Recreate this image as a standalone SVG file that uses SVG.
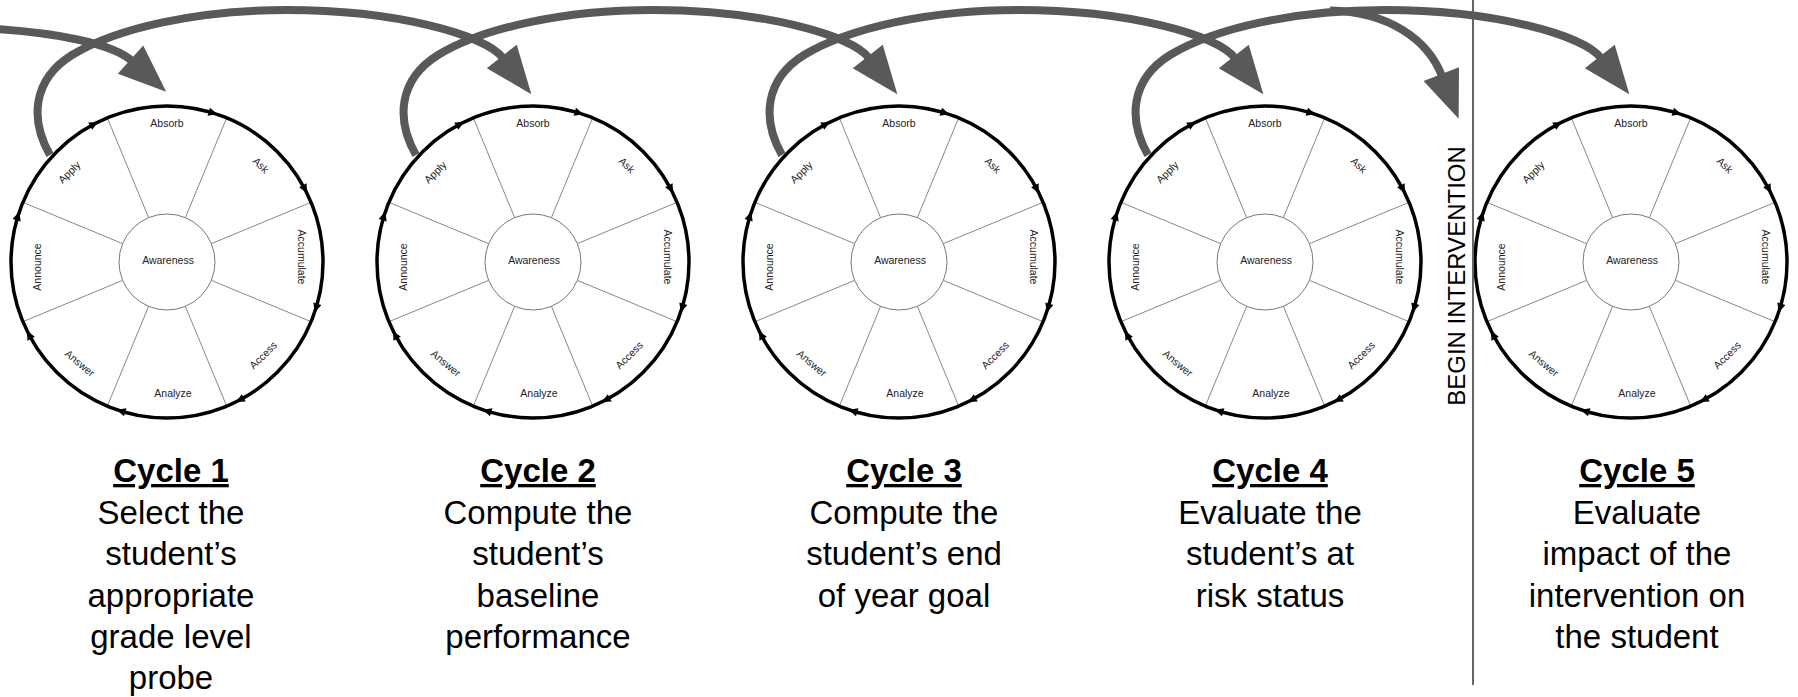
<svg xmlns="http://www.w3.org/2000/svg" xmlns:xlink="http://www.w3.org/1999/xlink" width="1798" height="697" viewBox="0 0 1798 697">
<style>
.rim{fill:none;stroke:#000;stroke-width:3.5}
.hub{fill:#fff;stroke:#777;stroke-width:1}
.spoke{stroke:#888;stroke-width:1}
.wl{font-family:"Liberation Sans",Arial,sans-serif;font-size:10.5px;fill:#222;text-anchor:middle;dominant-baseline:central}
.cap{font-family:"Liberation Sans",Arial,sans-serif;font-size:33px;fill:#000;text-anchor:middle}
.capt{font-weight:bold;text-decoration:underline}
.conn{fill:none;stroke:#595959;stroke-width:8;marker-end:url(#bigHead)}
.div{stroke:#666;stroke-width:2}
.bi{font-family:"Liberation Sans",Arial,sans-serif;font-size:24px;fill:#000;text-anchor:middle}
</style>
<defs>
<marker id="bigHead" markerUnits="userSpaceOnUse" markerWidth="60" markerHeight="50" refX="2" refY="20" orient="auto" overflow="visible">
<path d="M0,1 L48,20 L0,39 Z" fill="#595959"/>
</marker>
<path id="rimHead" d="M5,0 L-4,-4.2 L-4,4.2 Z" fill="#000"/>
<g id="wheelShape">
<line class="spoke" x1="18.37" y1="-44.35" x2="59.70" y2="-144.13"/>
<line class="spoke" x1="44.35" y1="-18.37" x2="144.13" y2="-59.70"/>
<line class="spoke" x1="44.35" y1="18.37" x2="144.13" y2="59.70"/>
<line class="spoke" x1="18.37" y1="44.35" x2="59.70" y2="144.13"/>
<line class="spoke" x1="-18.37" y1="44.35" x2="-59.70" y2="144.13"/>
<line class="spoke" x1="-44.35" y1="18.37" x2="-144.13" y2="59.70"/>
<line class="spoke" x1="-44.35" y1="-18.37" x2="-144.13" y2="-59.70"/>
<line class="spoke" x1="-18.37" y1="-44.35" x2="-59.70" y2="-144.13"/>
<circle class="hub" cx="0" cy="0" r="48"/>
<circle class="rim" cx="0" cy="0" r="156"/>
<use xlink:href="#rimHead" href="#rimHead" transform="rotate(-73) translate(156,0) rotate(90)"/>
<use xlink:href="#rimHead" href="#rimHead" transform="rotate(-28) translate(156,0) rotate(90)"/>
<use xlink:href="#rimHead" href="#rimHead" transform="rotate(17) translate(156,0) rotate(90)"/>
<use xlink:href="#rimHead" href="#rimHead" transform="rotate(62) translate(156,0) rotate(90)"/>
<use xlink:href="#rimHead" href="#rimHead" transform="rotate(107) translate(156,0) rotate(90)"/>
<use xlink:href="#rimHead" href="#rimHead" transform="rotate(152) translate(156,0) rotate(90)"/>
<use xlink:href="#rimHead" href="#rimHead" transform="rotate(197) translate(156,0) rotate(90)"/>
<use xlink:href="#rimHead" href="#rimHead" transform="rotate(242) translate(156,0) rotate(90)"/>
</g>
</defs>
<rect width="1798" height="697" fill="#fff"/>

<g id="cycle1">
<g transform="translate(167,262)">
<use xlink:href="#wheelShape" href="#wheelShape"/>
<text class="wl" transform="translate(0,-139)">Absorb</text>
<text class="wl" transform="translate(94,-97) rotate(45)">Ask</text>
<text class="wl" transform="translate(135,-5) rotate(90)">Accumulate</text>
<text class="wl" transform="translate(96,93) rotate(-45)">Access</text>
<text class="wl" transform="translate(6,131)">Analyze</text>
<text class="wl" transform="translate(-87,101) rotate(40)">Answer</text>
<text class="wl" transform="translate(-130,5) rotate(-90)">Announce</text>
<text class="wl" transform="translate(-98,-90) rotate(-45)">Apply</text>
<text class="wl" transform="translate(1,-2)">Awareness</text>
</g>
<text class="cap capt" x="171" y="482">Cycle 1</text>
<text class="cap" x="171" y="523.5">Select the</text>
<text class="cap" x="171" y="565">student’s</text>
<text class="cap" x="171" y="606.5">appropriate</text>
<text class="cap" x="171" y="648">grade level</text>
<text class="cap" x="171" y="689">probe</text>
</g>

<g id="cycle2">
<g transform="translate(533,262)">
<use xlink:href="#wheelShape" href="#wheelShape"/>
<text class="wl" transform="translate(0,-139)">Absorb</text>
<text class="wl" transform="translate(94,-97) rotate(45)">Ask</text>
<text class="wl" transform="translate(135,-5) rotate(90)">Accumulate</text>
<text class="wl" transform="translate(96,93) rotate(-45)">Access</text>
<text class="wl" transform="translate(6,131)">Analyze</text>
<text class="wl" transform="translate(-87,101) rotate(40)">Answer</text>
<text class="wl" transform="translate(-130,5) rotate(-90)">Announce</text>
<text class="wl" transform="translate(-98,-90) rotate(-45)">Apply</text>
<text class="wl" transform="translate(1,-2)">Awareness</text>
</g>
<text class="cap capt" x="538" y="482">Cycle 2</text>
<text class="cap" x="538" y="523.5">Compute the</text>
<text class="cap" x="538" y="565">student’s</text>
<text class="cap" x="538" y="606.5">baseline</text>
<text class="cap" x="538" y="648">performance</text>
</g>

<g id="cycle3">
<g transform="translate(899,262)">
<use xlink:href="#wheelShape" href="#wheelShape"/>
<text class="wl" transform="translate(0,-139)">Absorb</text>
<text class="wl" transform="translate(94,-97) rotate(45)">Ask</text>
<text class="wl" transform="translate(135,-5) rotate(90)">Accumulate</text>
<text class="wl" transform="translate(96,93) rotate(-45)">Access</text>
<text class="wl" transform="translate(6,131)">Analyze</text>
<text class="wl" transform="translate(-87,101) rotate(40)">Answer</text>
<text class="wl" transform="translate(-130,5) rotate(-90)">Announce</text>
<text class="wl" transform="translate(-98,-90) rotate(-45)">Apply</text>
<text class="wl" transform="translate(1,-2)">Awareness</text>
</g>
<text class="cap capt" x="904" y="482">Cycle 3</text>
<text class="cap" x="904" y="523.5">Compute the</text>
<text class="cap" x="904" y="565">student’s end</text>
<text class="cap" x="904" y="606.5">of year goal</text>
</g>

<g id="cycle4">
<g transform="translate(1265,262)">
<use xlink:href="#wheelShape" href="#wheelShape"/>
<text class="wl" transform="translate(0,-139)">Absorb</text>
<text class="wl" transform="translate(94,-97) rotate(45)">Ask</text>
<text class="wl" transform="translate(135,-5) rotate(90)">Accumulate</text>
<text class="wl" transform="translate(96,93) rotate(-45)">Access</text>
<text class="wl" transform="translate(6,131)">Analyze</text>
<text class="wl" transform="translate(-87,101) rotate(40)">Answer</text>
<text class="wl" transform="translate(-130,5) rotate(-90)">Announce</text>
<text class="wl" transform="translate(-98,-90) rotate(-45)">Apply</text>
<text class="wl" transform="translate(1,-2)">Awareness</text>
</g>
<text class="cap capt" x="1270" y="482">Cycle 4</text>
<text class="cap" x="1270" y="523.5">Evaluate the</text>
<text class="cap" x="1270" y="565">student’s at</text>
<text class="cap" x="1270" y="606.5">risk status</text>
</g>

<g id="cycle5">
<g transform="translate(1631,262)">
<use xlink:href="#wheelShape" href="#wheelShape"/>
<text class="wl" transform="translate(0,-139)">Absorb</text>
<text class="wl" transform="translate(94,-97) rotate(45)">Ask</text>
<text class="wl" transform="translate(135,-5) rotate(90)">Accumulate</text>
<text class="wl" transform="translate(96,93) rotate(-45)">Access</text>
<text class="wl" transform="translate(6,131)">Analyze</text>
<text class="wl" transform="translate(-87,101) rotate(40)">Answer</text>
<text class="wl" transform="translate(-130,5) rotate(-90)">Announce</text>
<text class="wl" transform="translate(-98,-90) rotate(-45)">Apply</text>
<text class="wl" transform="translate(1,-2)">Awareness</text>
</g>
<text class="cap capt" x="1637" y="482">Cycle 5</text>
<text class="cap" x="1637" y="523.5">Evaluate</text>
<text class="cap" x="1637" y="565">impact of the</text>
<text class="cap" x="1637" y="606.5">intervention on</text>
<text class="cap" x="1637" y="648">the student</text>
</g>

<g id="intervention">
<line class="div" x1="1473" y1="0" x2="1473" y2="685"/>
<text class="bi" transform="translate(1465,276) rotate(-90)">BEGIN INTERVENTION</text>
</g>

<g id="connectors">
<path class="conn" d="M-5,29 C55,33 112,43 132,61"/>
<path class="conn" d="M50,155 C30,120 32,80 72,55 C117,28 197,10 287,10 C397,10 485,35 503,58"/>
<path class="conn" d="M416,155 C396,120 398,80 438,55 C483,28 563,10 653,10 C763,10 851,35 869,58"/>
<path class="conn" d="M782,155 C762,120 764,80 804,55 C849,28 929,10 1019,10 C1129,10 1217,35 1235,58"/>
<path class="conn" d="M1148,155 C1128,120 1130,80 1170,55 C1215,28 1295,10 1385,10 C1495,10 1583,35 1601,58"/>
<path class="conn" d="M1330,10.5 C1390,12 1428,40 1442,76"/>
</g>
</svg>
